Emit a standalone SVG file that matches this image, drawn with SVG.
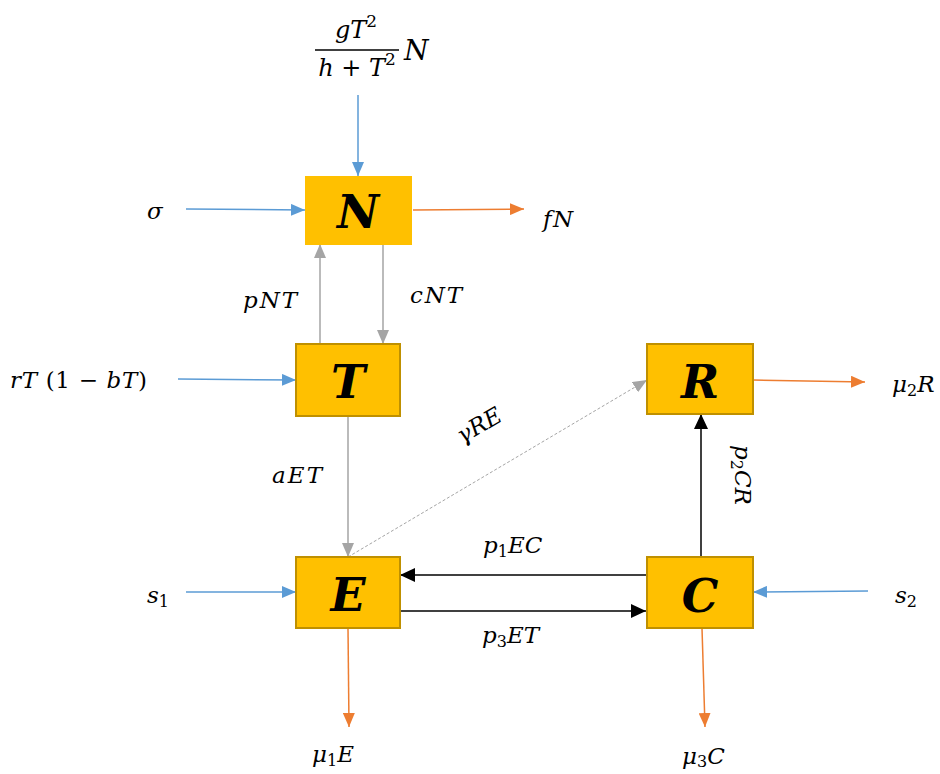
<svg xmlns="http://www.w3.org/2000/svg" width="940" height="774" viewBox="0 0 940 774">
<style>
.box{fill:#FFC000;stroke:#BF9000;stroke-width:2}
.nb{fill:#FFC000;stroke:none}
.bl{font-family:"DejaVu Serif","Liberation Serif",serif;font-style:italic;font-weight:bold;font-size:46px;fill:#000;text-anchor:middle}
.lb{font-family:"DejaVu Serif","Liberation Serif",serif;font-style:italic;font-size:23px;fill:#000}
.up{font-style:normal}
.sub{font-style:normal;font-size:16px}
.c{fill:none;stroke-width:1.5}
.blue{stroke:#5B9BD5}
.org{stroke:#ED7D31}
.gry{stroke:#A5A5A5}
.blk{stroke:#000}
</style>
<defs>
<marker id="ab" markerUnits="userSpaceOnUse" markerWidth="14" markerHeight="12" refX="14" refY="6" orient="auto"><path d="M0,0 L14,6 L0,12 z" fill="#5B9BD5"/></marker>
<marker id="ao" markerUnits="userSpaceOnUse" markerWidth="14" markerHeight="12" refX="14" refY="6" orient="auto"><path d="M0,0 L14,6 L0,12 z" fill="#ED7D31"/></marker>
<marker id="ag" markerUnits="userSpaceOnUse" markerWidth="14" markerHeight="12" refX="14" refY="6" orient="auto"><path d="M0,0 L14,6 L0,12 z" fill="#A5A5A5"/></marker>
<marker id="ak" markerUnits="userSpaceOnUse" markerWidth="15" markerHeight="14" refX="15" refY="7" orient="auto"><path d="M0,0 L15,7 L0,14 z" fill="#000"/></marker>
</defs>
<rect width="940" height="774" fill="#fff"/>

<g id="connectors">
<line class="c blue" x1="358" y1="95" x2="358" y2="176" marker-end="url(#ab)"/>
<line class="c blue" x1="186" y1="209" x2="305" y2="210" marker-end="url(#ab)"/>
<line class="c org" x1="413" y1="210" x2="524" y2="209" marker-end="url(#ao)"/>
<line class="c gry" x1="320" y1="344" x2="320" y2="244" marker-end="url(#ag)"/>
<line class="c gry" x1="383" y1="244" x2="383" y2="344" marker-end="url(#ag)"/>
<line class="c blue" x1="178" y1="379" x2="296" y2="380" marker-end="url(#ab)"/>
<line class="c gry" x1="348" y1="416" x2="348" y2="557" marker-end="url(#ag)"/>
<line class="c gry" stroke-dasharray="3,2" x1="348" y1="557" x2="647" y2="380" marker-end="url(#ag)" style="stroke-width:1"/>
<line class="c org" x1="753" y1="380" x2="865" y2="382" marker-end="url(#ao)"/>
<line class="c blk" x1="701" y1="557" x2="701" y2="414" marker-end="url(#ak)"/>
<line class="c blk" x1="647" y1="575" x2="400" y2="575" marker-end="url(#ak)"/>
<line class="c blk" x1="398" y1="611" x2="646" y2="611" marker-end="url(#ak)"/>
<line class="c blue" x1="186" y1="592" x2="296" y2="592" marker-end="url(#ab)"/>
<line class="c blue" x1="868" y1="591" x2="753" y2="592" marker-end="url(#ab)"/>
<line class="c org" x1="348" y1="628" x2="349" y2="727" marker-end="url(#ao)"/>
<line class="c org" x1="702" y1="628" x2="705" y2="727" marker-end="url(#ao)"/>
</g>

<g id="node-N"><rect class="nb" x="305" y="176" width="107" height="69"/><text class="bl" x="358" y="228">N</text></g>
<g id="node-T"><rect class="box" x="296" y="344" width="104" height="72"/><text class="bl" x="348" y="398">T</text></g>
<g id="node-R"><rect class="box" x="647" y="344" width="106" height="70"/><text class="bl" x="700" y="398">R</text></g>
<g id="node-E"><rect class="box" x="296" y="557" width="104" height="71"/><text class="bl" x="348" y="611">E</text></g>
<g id="node-C"><rect class="box" x="647" y="557" width="106" height="71"/><text class="bl" x="700" y="612">C</text></g>

<g id="labels">
<text class="lb" x="356" y="38" text-anchor="middle" style="font-size:24px">gT<tspan class="sub" dy="-11" style="font-size:17px">2</tspan></text>
<line x1="315" y1="50" x2="399" y2="50" stroke="#000" stroke-width="1.5"/>
<text class="lb" x="357" y="76" text-anchor="middle" style="font-size:24px">h <tspan class="up">+</tspan> T<tspan class="sub" dy="-11" style="font-size:17px">2</tspan></text>
<text class="lb" x="404" y="60" style="font-size:28px">N</text>

<text class="lb" x="147" y="219">σ</text>
<text class="lb" x="543" y="227" textLength="30">fN</text>
<text class="lb" x="243" y="308" textLength="54">pNT</text>
<text class="lb" x="410" y="303" textLength="52">cNT</text>
<text class="lb" x="10" y="388" textLength="137">rT <tspan class="up">(1 − </tspan>bT<tspan class="up">)</tspan></text>
<text class="lb" x="272" y="483" textLength="50">aET</text>
<text class="lb" x="483" y="432" text-anchor="middle" transform="rotate(-30 483 432)">γRE</text>
<text class="lb" x="483" y="553">p<tspan class="sub" dy="4">1</tspan><tspan dy="-4">EC</tspan></text>
<text class="lb" x="482" y="643">p<tspan class="sub" dy="4">3</tspan><tspan dy="-4">ET</tspan></text>
<text class="lb" x="735" y="445" transform="rotate(90 735 445)">p<tspan class="sub" dy="4">2</tspan><tspan dy="-4">CR</tspan></text>
<text class="lb" x="892" y="392">μ<tspan class="sub" dy="4">2</tspan><tspan dy="-4">R</tspan></text>
<text class="lb" x="147" y="603">s<tspan class="sub" dy="4">1</tspan></text>
<text class="lb" x="895" y="603">s<tspan class="sub" dy="4">2</tspan></text>
<text class="lb" x="312" y="762">μ<tspan class="sub" dy="4">1</tspan><tspan dy="-4">E</tspan></text>
<text class="lb" x="682" y="764">μ<tspan class="sub" dy="3">3</tspan><tspan dy="-3">C</tspan></text>
</g>
</svg>
